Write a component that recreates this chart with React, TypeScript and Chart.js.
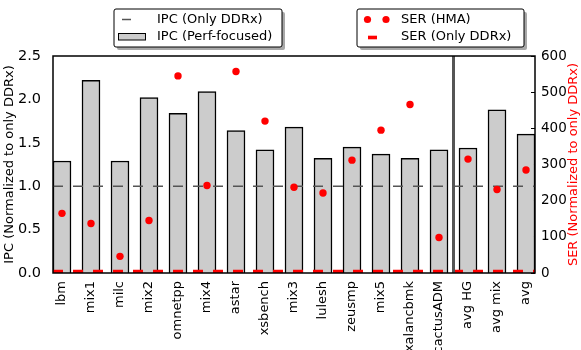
import { useEffect, useRef } from "react";
import { Chart, registerables } from "chart.js";

Chart.register(...registerables);

const CATEGORIES = [
  "lbm", "mix1", "milc", "mix2", "omnetpp", "mix4", "astar", "xsbench", "mix3",
  "lulesh", "zeusmp", "mix5", "xalancbmk", "cactusADM", "avg HG", "avg mix", "avg",
];
const IPC_PERF = [1.29, 2.22, 1.29, 2.02, 1.84, 2.09, 1.64, 1.42, 1.68, 1.32, 1.45, 1.37, 1.32, 1.42, 1.44, 1.88, 1.6];
const IPC_ONLY_DDRX = 1.0;
const SER_HMA = [165, 137, 46, 145, 545, 242, 557, 420, 237, 221, 312, 395, 466, 98, 315, 231, 285];
const SER_ONLY_DDRX = 1;
const IPC_TICKS = [0, 0.5, 1.0, 1.5, 2.0, 2.5];
const SER_TICKS = [0, 100, 200, 300, 400, 500, 600];
const SEPARATOR_AT = 13.5;
const X_MIN = -0.31;
const X_MAX = 16.31;

const FONT = "'DejaVu Sans', sans-serif";

function roundRect(ctx: CanvasRenderingContext2D, x: number, y: number, w: number, h: number, r: number) {
  ctx.beginPath();
  ctx.moveTo(x + r, y);
  ctx.lineTo(x + w - r, y);
  ctx.quadraticCurveTo(x + w, y, x + w, y + r);
  ctx.lineTo(x + w, y + h - r);
  ctx.quadraticCurveTo(x + w, y + h, x + w - r, y + h);
  ctx.lineTo(x + r, y + h);
  ctx.quadraticCurveTo(x, y + h, x, y + h - r);
  ctx.lineTo(x, y + r);
  ctx.quadraticCurveTo(x, y, x + r, y);
  ctx.closePath();
}

function legendBox(ctx: CanvasRenderingContext2D, x: number, y: number, w: number, h: number) {
  ctx.fillStyle = "#a8a8a8";
  roundRect(ctx, x + 3, y + 3, w, h, 2);
  ctx.fill();
  ctx.fillStyle = "#ffffff";
  roundRect(ctx, x, y, w, h, 2);
  ctx.fill();
  ctx.strokeStyle = "#000";
  ctx.lineWidth = 1;
  ctx.stroke();
}

const decor = {
  id: "decor",
  afterDatasetsDraw(chart: any) {
    const { ctx, chartArea: a, scales } = chart;
    const sx = scales.x.getPixelForValue(SEPARATOR_AT);
    ctx.save();
    ctx.strokeStyle = "#555555";
    ctx.lineWidth = 3;
    ctx.beginPath();
    ctx.moveTo(sx, a.top);
    ctx.lineTo(sx, a.bottom);
    ctx.stroke();
    ctx.strokeStyle = "#000";
    ctx.lineWidth = 1.5;
    ctx.strokeRect(a.left, a.top, a.right - a.left, a.bottom - a.top);
    ctx.restore();
  },
  afterDraw(chart: any) {
    const { ctx, chartArea: a } = chart;
    ctx.save();
    ctx.translate(574, (a.top + a.bottom) / 2);
    ctx.rotate(-Math.PI / 2);
    ctx.fillStyle = "#ff0000";
    ctx.font = `13px ${FONT}`;
    ctx.textAlign = "center";
    ctx.textBaseline = "middle";
    ctx.fillText("SER (Normalized to only DDRx)", 0, 0);
    ctx.restore();

    ctx.save();
    ctx.font = `13px ${FONT}`;
    ctx.textBaseline = "middle";
    ctx.textAlign = "left";
    legendBox(ctx, 114, 9, 168, 38);
    ctx.strokeStyle = "#555555";
    ctx.lineWidth = 1.5;
    ctx.beginPath();
    ctx.moveTo(122, 19.5);
    ctx.lineTo(131, 19.5);
    ctx.stroke();
    ctx.fillStyle = "#000";
    ctx.fillText("IPC (Only DDRx)", 157, 19.5);
    ctx.fillStyle = "#cccccc";
    ctx.fillRect(118.5, 33.5, 27, 6.5);
    ctx.strokeStyle = "#000";
    ctx.lineWidth = 1;
    ctx.strokeRect(118.5, 33.5, 27, 6.5);
    ctx.fillStyle = "#000";
    ctx.fillText("IPC (Perf-focused)", 157, 37);
    legendBox(ctx, 357, 9, 167, 38);
    ctx.fillStyle = "#ff0000";
    for (const cx of [367.5, 386]) {
      ctx.beginPath();
      ctx.arc(cx, 19.5, 3.6, 0, Math.PI * 2);
      ctx.fill();
    }
    ctx.fillRect(368, 35.7, 9, 3.6);
    ctx.fillStyle = "#000";
    ctx.fillText("SER (HMA)", 401, 19.5);
    ctx.fillText("SER (Only DDRx)", 401, 37);
    ctx.restore();
  },
};

export default function App() {
  const ref = useRef<HTMLCanvasElement>(null);
  useEffect(() => {
    document.body.style.margin = "0";
    Chart.defaults.font.family = FONT;
    const chart = new Chart(ref.current!, {
      type: "bar",
      data: {
        datasets: [
          {
            type: "line",
            label: "SER (Only DDRx)",
            data: [
              { x: X_MIN, y: SER_ONLY_DDRX },
              { x: X_MAX, y: SER_ONLY_DDRX },
            ],
            yAxisID: "y2",
            borderColor: "#ff0000",
            borderWidth: 6,
            borderDash: [10, 10],
            borderCapStyle: "butt",
            pointRadius: 0,
            clip: 0,
          } as any,
          {
            type: "line",
            label: "SER (HMA)",
            data: SER_HMA.map((v, i) => ({ x: i, y: v })),
            yAxisID: "y2",
            showLine: false,
            pointRadius: 3.7,
            pointBackgroundColor: "#ff0000",
            pointBorderWidth: 0,
            borderColor: "#ff0000",
            backgroundColor: "#ff0000",
          } as any,
          {
            type: "line",
            label: "IPC (Only DDRx)",
            data: [
              { x: X_MIN, y: IPC_ONLY_DDRX },
              { x: X_MAX, y: IPC_ONLY_DDRX },
            ],
            yAxisID: "y",
            borderColor: "#555555",
            borderWidth: 1.5,
            borderDash: [10, 10],
            pointRadius: 0,
          } as any,
          {
            type: "bar",
            label: "IPC (Perf-focused)",
            data: IPC_PERF.map((v, i) => ({ x: i, y: v })),
            yAxisID: "y",
            backgroundColor: "#cccccc",
            borderColor: "#000000",
            borderWidth: 1.5,
            barThickness: 18,
          } as any,
        ],
      },
      options: {
        responsive: false,
        animation: false,
        events: [],
        layout: { padding: { top: 56, left: 0, right: 0, bottom: 0 } },
        plugins: { legend: { display: false }, tooltip: { enabled: false } },
        scales: {
          x: {
            type: "linear",
            min: X_MIN,
            max: X_MAX,
            offset: false,
            grid: { display: false },
            border: { display: false },
            afterBuildTicks: (s: any) => {
              s.ticks = CATEGORIES.map((_, i) => ({ value: i }));
            },
            afterFit: (s: any) => {
              s.height = 77;
            },
            ticks: {
              autoSkip: false,
              minRotation: 90,
              maxRotation: 90,
              padding: 0,
              color: "#000",
              font: { size: 13 },
              callback: (v: any) => CATEGORIES[v] ?? "",
            },
          },
          y: {
            position: "left",
            min: 0,
            max: 2.5,
            grid: { display: false },
            border: { display: false },
            afterBuildTicks: (s: any) => {
              s.ticks = IPC_TICKS.map((v) => ({ value: v }));
            },
            afterFit: (s: any) => {
              s.width = 53;
            },
            ticks: {
              color: "#000",
              font: { size: 14.5 },
              padding: 4,
              callback: (v: any) => Number(v).toFixed(1),
            },
            title: {
              display: true,
              text: "IPC (Normalized to only DDRx)",
              color: "#000",
              font: { size: 13 },
              padding: { top: 2, bottom: 0 },
            },
          },
          y2: {
            position: "right",
            min: 0,
            max: 600,
            z: 1,
            grid: {
              display: true,
              drawOnChartArea: false,
              drawTicks: true,
              tickLength: -4,
              color: "#000",
              lineWidth: 1,
            },
            border: { display: false },
            afterBuildTicks: (s: any) => {
              s.ticks = SER_TICKS.map((v) => ({ value: v }));
            },
            afterFit: (s: any) => {
              s.width = 46;
            },
            ticks: { color: "#000", font: { size: 13.5 }, padding: 10 },
          },
        },
      } as any,
      plugins: [decor],
    });
    return () => chart.destroy();
  }, []);
  return (
    <canvas
      ref={ref}
      width={581}
      height={350}
      style={{ display: "block", width: 581, height: 350 }}
    />
  );
}
